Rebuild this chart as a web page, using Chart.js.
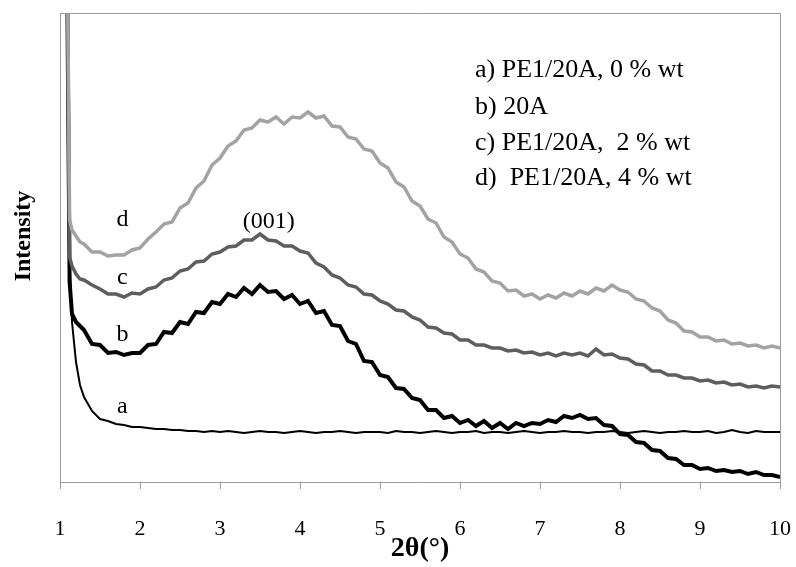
<!DOCTYPE html>
<html>
<head>
<meta charset="utf-8">
<script src="https://cdn.jsdelivr.net/npm/chart.js@4.4.0/dist/chart.umd.min.js"></script>
<style>
  html, body { margin: 0; padding: 0; background: #fff; }
  #wrap { width: 796px; height: 567px; }
</style>
</head>
<body>
<div id="wrap"><canvas id="xrd" width="796" height="567"></canvas></div>
<script>
// 2theta positions (degrees) shared by all four patterns
const theta = [
  1.08, 1.10, 1.12, 1.15, 1.2, 1.25,
  1.3, 1.4, 1.5, 1.6, 1.7, 1.8, 1.9,
  2.0, 2.1, 2.2, 2.3, 2.4, 2.5, 2.6, 2.7, 2.8, 2.9,
  3.0, 3.1, 3.2, 3.3, 3.4, 3.5, 3.6, 3.7, 3.8, 3.9,
  4.0, 4.1, 4.2, 4.3, 4.4, 4.5, 4.6, 4.7, 4.8, 4.9,
  5.0, 5.1, 5.2, 5.3, 5.4, 5.5, 5.6, 5.7, 5.8, 5.9,
  6.0, 6.1, 6.2, 6.3, 6.4, 6.5, 6.6, 6.7, 6.8, 6.9,
  7.0, 7.1, 7.2, 7.3, 7.4, 7.5, 7.6, 7.7, 7.8, 7.9,
  8.0, 8.1, 8.2, 8.3, 8.4, 8.5, 8.6, 8.7, 8.8, 8.9,
  9.0, 9.1, 9.2, 9.3, 9.4, 9.5, 9.6, 9.7, 9.8, 9.9,
  10.0
];

// a) PE1/20A, 0 % wt
const intA = [
  600, 400, 220, 160, 120, 97,
  85, 71, 63, 61, 58, 57, 55,
  55, 54, 53, 53, 52, 52, 51, 51, 50, 51,
  50, 51, 50, 49, 50, 51, 50, 50, 49, 50,
  51, 50, 49, 50, 50, 51, 50, 49, 50, 50,
  50, 49, 51, 50, 50, 49, 50, 51, 50, 49,
  50, 50, 51, 49, 50, 50, 49, 50, 51, 50,
  49, 50, 50, 51, 50, 50, 49, 50, 50, 51,
  50, 49, 50, 51, 50, 49, 50, 50, 51, 50,
  50, 51, 49, 50, 52, 50, 49, 51, 50, 50,
  50
];

// b) 20A
const intB = [
  600, 400, 200, 168, 160, 156,
  152, 138, 137, 129, 130, 127, 129,
  129, 137, 138, 150, 149, 160, 158, 170, 169, 180,
  178, 188, 185, 194, 188, 197, 190, 191, 183, 187,
  178, 181, 169, 171, 157, 156, 141, 138, 121, 120,
  107, 105, 94, 93, 84, 82, 72, 72, 64, 66,
  59, 62, 56, 61, 54, 59, 53, 59, 56, 59,
  58, 62, 60, 66, 64, 67, 63, 64, 57, 56,
  48, 47, 40, 39, 32, 31, 24, 23, 17, 17,
  13, 14, 11, 12, 10, 11, 8, 10, 7, 7,
  5
];

// c) PE1/20A, 2 % wt
const intC = [
  600, 420, 225, 216, 208, 203,
  202, 197, 193, 188, 188, 185, 189,
  188, 193, 195, 202, 204, 211, 213, 220, 221, 228,
  230, 235, 236, 242, 242, 248, 242, 241, 236, 236,
  231, 229, 219, 215, 207, 204, 197, 195, 188, 187,
  181, 178, 172, 171, 165, 162, 155, 154, 149, 148,
  142, 142, 137, 137, 134, 134, 131, 132, 129, 130,
  127, 129, 126, 129, 127, 129, 126, 133, 127, 128,
  124, 123, 118, 117, 111, 111, 107, 107, 104, 104,
  101, 102, 99, 100, 97, 98, 95, 96, 94, 96,
  95
];

// d) PE1/20A, 4 % wt
const intD = [
  600, 450, 262, 252, 246, 240,
  238, 230, 230, 226, 227, 227, 232,
  234, 243, 250, 258, 260, 274, 279, 294, 301, 317,
  324, 336, 341, 352, 354, 362, 360, 365, 358, 365,
  364, 370, 364, 366, 356, 355, 345, 343, 333, 331,
  319, 314, 300, 295, 281, 276, 263, 259, 245, 240,
  228, 224, 213, 210, 201, 199, 191, 192, 186, 188,
  183, 187, 184, 189, 186, 191, 188, 194, 191, 197,
  192, 190, 183, 181, 174, 171, 162, 159, 151, 150,
  145, 145, 141, 142, 138, 139, 136, 137, 134, 136,
  134
];

const legendLines = [
  'a) PE1/20A, 0 % wt',
  'b) 20A',
  'c) PE1/20A,  2 % wt',
  'd)  PE1/20A, 4 % wt'
];
const curveLetters = ['a', 'b', 'c', 'd'];
const peakLabel = '(001)';
const yTitle = 'Intensity';

const serif = "'Liberation Serif', 'Times New Roman', serif";

function toPoints(values) {
  return theta.map((t, i) => ({ x: t, y: values[i] }));
}

function lineSet(label, values, color, width) {
  return {
    label: label,
    data: toPoints(values),
    borderColor: color,
    borderWidth: width,
    pointRadius: 0,
    tension: 0,
    fill: false
  };
}

// frame on top/right + text labels inside the plot
const annotations = {
  id: 'annotations',
  afterDatasetsDraw(chart) {
    const { ctx, chartArea, scales } = chart;
    ctx.save();
    ctx.strokeStyle = '#9a9a9a';
    ctx.lineWidth = 1;
    ctx.beginPath();
    ctx.moveTo(chartArea.left, chartArea.top + 0.5);
    ctx.lineTo(chartArea.right + 0.5, chartArea.top + 0.5);
    ctx.lineTo(chartArea.right + 0.5, chartArea.bottom);
    ctx.stroke();

    ctx.fillStyle = '#000';
    ctx.font = '26px ' + serif;
    ctx.textAlign = 'left';
    ctx.textBaseline = 'alphabetic';
    const baselines = [77, 114, 150, 185];
    legendLines.forEach((txt, i) => ctx.fillText(txt, 475, baselines[i]));

    // curve letters next to each pattern
    ctx.font = '24px ' + serif;
    ctx.textAlign = 'center';
    ctx.textBaseline = 'middle';
    const letterY = [75, 147, 204, 262];
    curveLetters.forEach((l, i) => {
      ctx.fillText(l, scales.x.getPixelForValue(1.78), scales.y.getPixelForValue(letterY[i]));
    });
    ctx.fillText(peakLabel, scales.x.getPixelForValue(3.61), scales.y.getPixelForValue(260));

    // y axis title sits a bit above the middle in the original
    ctx.translate(24, 236);
    ctx.rotate(-Math.PI / 2);
    ctx.font = 'bold 24px ' + serif;
    ctx.fillText(yTitle, 0, 0);
    ctx.restore();
  }
};

const ctx = document.getElementById('xrd').getContext('2d');
new Chart(ctx, {
  type: 'line',
  data: {
    datasets: [
      lineSet('d', intD, '#a3a3a3', 3.5),
      lineSet('c', intC, '#5e5e5e', 3.5),
      lineSet('b', intB, '#000000', 4),
      lineSet('a', intA, '#000000', 2)
    ]
  },
  options: {
    responsive: false,
    animation: false,
    layout: { padding: { left: 0, right: 16, top: 13, bottom: 0 } },
    plugins: {
      legend: { display: false },
      tooltip: { enabled: false }
    },
    scales: {
      x: {
        type: 'linear',
        min: 1,
        max: 10,
        afterFit(scale) {
          scale.height = 85;
          scale.paddingLeft = 0;
          scale.paddingRight = 0;
        },
        ticks: {
          stepSize: 1,
          color: '#000',
          padding: 27,
          font: { family: serif, size: 22 }
        },
        grid: {
          drawOnChartArea: false,
          drawTicks: true,
          tickLength: 7,
          color: '#9a9a9a'
        },
        border: { display: true, color: '#9a9a9a' },
        title: {
          display: true,
          text: '2θ(°)',
          color: '#000',
          padding: { top: 0, bottom: 1 },
          font: { family: serif, size: 28, weight: 'bold' }
        }
      },
      y: {
        type: 'linear',
        min: 0,
        max: 469,
        afterFit(scale) { scale.width = 60; },
        ticks: { display: false },
        grid: { display: false, drawTicks: false },
        border: { display: true, color: '#9a9a9a' },
        title: { display: false }
      }
    }
  },
  plugins: [annotations]
});
</script>
</body>
</html>
